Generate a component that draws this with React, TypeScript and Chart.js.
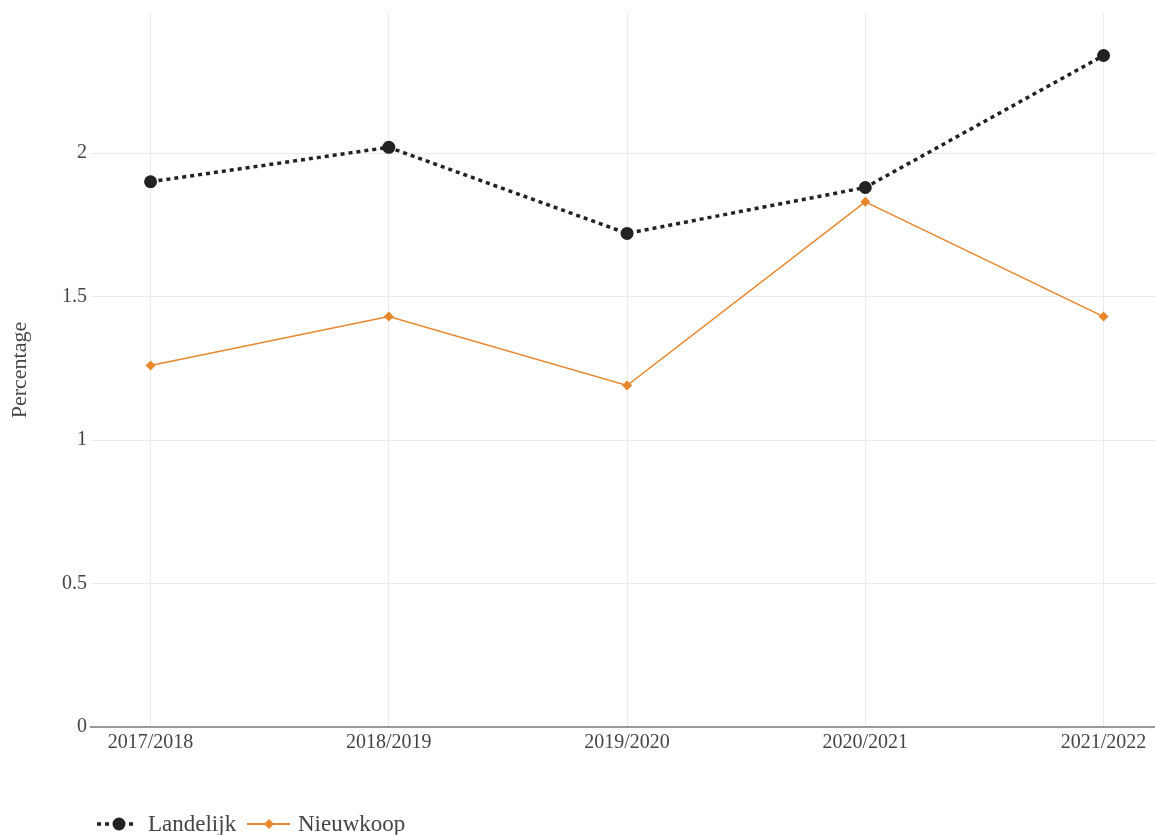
import React, { useEffect, useRef } from "react";
import { Chart, registerables } from "chart.js";

Chart.register(...registerables);

const categories = ["2017/2018", "2018/2019", "2019/2020", "2020/2021", "2021/2022"];
const landelijk = [1.9, 2.02, 1.72, 1.88, 2.34];
const nieuwkoop = [1.26, 1.43, 1.19, 1.83, 1.43];
const yTicks = [0, 0.5, 1, 1.5, 2];

const FONT = "'Liberation Serif', 'Times New Roman', serif";
const BLACK = "#222222";
const ORANGE = "#E8862C";

const legendPlugin = {
  id: "customLegend",
  afterDraw(chart: any) {
    const ctx = chart.ctx;
    const y = 824;
    ctx.save();
    // Landelijk
    ctx.strokeStyle = BLACK;
    ctx.lineWidth = 3.5;
    ctx.setLineDash([4, 4]);
    ctx.beginPath();
    ctx.moveTo(97, y);
    ctx.lineTo(137, y);
    ctx.stroke();
    ctx.setLineDash([]);
    ctx.fillStyle = BLACK;
    ctx.beginPath();
    ctx.arc(119, y, 6.5, 0, Math.PI * 2);
    ctx.fill();
    ctx.font = `23px ${FONT}`;
    ctx.fillStyle = "#444";
    ctx.textBaseline = "middle";
    ctx.fillText(chart.data.datasets[0].label, 148, y + 1);
    // Nieuwkoop
    ctx.strokeStyle = ORANGE;
    ctx.lineWidth = 2;
    ctx.beginPath();
    ctx.moveTo(247, y);
    ctx.lineTo(290, y);
    ctx.stroke();
    ctx.fillStyle = ORANGE;
    ctx.beginPath();
    ctx.moveTo(269, y - 5);
    ctx.lineTo(274, y);
    ctx.lineTo(269, y + 5);
    ctx.lineTo(264, y);
    ctx.closePath();
    ctx.fill();
    ctx.fillStyle = "#444";
    ctx.fillText(chart.data.datasets[1].label, 298, y + 1);
    ctx.restore();
  },
};

export default function App() {
  const ref = useRef<HTMLCanvasElement>(null);
  useEffect(() => {
    document.body.style.margin = "0";
    const canvas = ref.current!;
    const chart = new Chart(canvas, {
      type: "line",
      data: {
        datasets: [
          {
            label: "Landelijk",
            data: landelijk.map((v, i) => ({ x: i, y: v })),
            borderColor: BLACK,
            backgroundColor: BLACK,
            borderWidth: 3.5,
            borderDash: [4, 4],
            pointRadius: 6.5,
            pointBorderWidth: 0,
            pointStyle: "circle",
            tension: 0,
          },
          {
            label: "Nieuwkoop",
            data: nieuwkoop.map((v, i) => ({ x: i, y: v })),
            borderColor: ORANGE,
            backgroundColor: ORANGE,
            borderWidth: 1.5,
            pointRadius: 5,
            pointBorderWidth: 0,
            pointStyle: "rectRot",
            tension: 0,
          },
        ],
      },
      options: {
        responsive: false,
        animation: false,
        layout: { autoPadding: false, padding: { top: 13, right: 0, left: 0, bottom: 0 } },
        plugins: {
          legend: { display: false },
          tooltip: { enabled: false },
        },
        scales: {
          x: {
            type: "linear",
            min: -0.25,
            max: 4.216,
            afterBuildTicks: (scale: any) => {
              scale.ticks = categories.map((_, i) => ({ value: i }));
            },
            afterFit: (scale: any) => {
              scale.height = 108;
              scale.paddingLeft = 0;
              scale.paddingRight = 0;
            },
            ticks: {
              callback: (v: any) => categories[v as number] ?? "",
              font: { family: FONT, size: 20 },
              color: "#444",
              padding: 4,
              maxRotation: 0,
              autoSkip: false,
            },
            grid: { color: "#ebebeb", lineWidth: 1, drawTicks: false },
            border: { color: "#999", width: 2 },
          },
          y: {
            type: "linear",
            min: 0,
            max: 2.488,
            afterBuildTicks: (scale: any) => {
              scale.ticks = yTicks.map((v) => ({ value: v }));
            },
            afterFit: (scale: any) => {
              scale.width = 91;
              scale.paddingTop = 0;
              scale.paddingBottom = 0;
            },
            ticks: {
              font: { family: FONT, size: 20 },
              color: "#444",
              padding: 4,
              callback: (v: any) => String(v),
            },
            title: {
              display: true,
              text: "Percentage",
              font: { family: FONT, size: 22 },
              color: "#444",
              padding: { top: 7, bottom: 0 },
            },
            grid: { color: "#ebebeb", lineWidth: 1, drawTicks: false },
            border: { display: false },
          },
        },
      },
      plugins: [legendPlugin],
    });
    return () => chart.destroy();
  }, []);
  return <canvas ref={ref} width={1155} height={835} style={{ display: "block" }} />;
}
